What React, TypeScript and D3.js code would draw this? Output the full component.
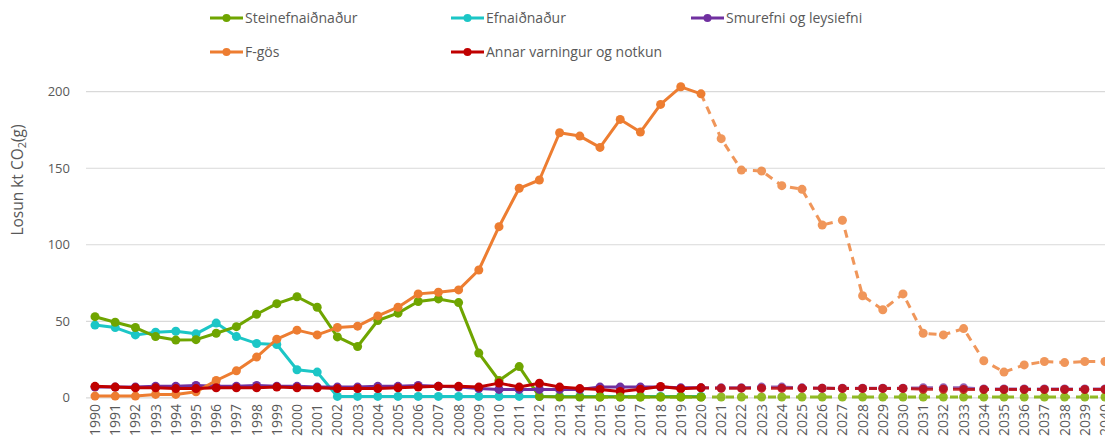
import React from "react";
import * as d3 from "d3";

const years = d3.range(1990, 2041);
const yTicks = [0, 50, 100, 150, 200];

// Historical series 1990-2020
const steinefni = [53, 49.4, 45.9, 40, 37.7, 38, 42.2, 46.5, 54.6, 61.5, 66, 59.2, 39.8, 33.5, 50.5, 55.3, 62.9, 64.6, 62.2, 29.2, 11.3, 20.4, 0.8, 0.5, 0.5, 0.5, 0.5, 0.5, 0.5, 0.5, 0.5];
const efni = [47.5, 45.9, 41.1, 42.9, 43.5, 41.8, 48.8, 40, 35.5, 34.8, 18.3, 16.8, 0.9, 0.9, 0.9, 0.9, 0.9, 0.9, 0.9, 0.9, 0.9, 0.9, 0.9, 0.9, 0.9, 0.9, 0.9, 0.9, 0.9, 0.9, 0.9];
const smurefni = [7, 7, 7, 7.5, 7.5, 8, 7.5, 7.5, 8, 7.5, 7.5, 7, 7, 7, 7.5, 7.5, 8, 7.5, 7, 6, 5.5, 5.5, 5.5, 5.5, 5.5, 7, 7, 7, 7, 6.5, 6.5];
const fgos = [1.1, 1.1, 1.1, 2.2, 2.2, 3.9, 11.3, 17.6, 26.6, 38.3, 44.2, 41.1, 45.9, 46.8, 53.5, 59.2, 67.9, 69, 70.5, 83.5, 111.8, 136.9, 142.3, 173.2, 171, 163.6, 181.9, 173.6, 191.7, 203.2, 198.6];
const annar = [7.5, 7, 6.5, 6.5, 6, 6, 6.5, 6.5, 6.5, 7, 6.5, 6.5, 6, 6, 6, 6.5, 7, 7.5, 7.5, 7, 9.6, 7, 9.5, 7, 6, 5.4, 4.1, 5.6, 7.4, 5.9, 6.5];

// Projections
const steinefniProjYears = d3.range(2015, 2041);
const steinefniProj = [0.5, 0.5, 0.5, 0.5, 0.5, 0.5, 0.5, 0.5, 0.5, 0.5, 0.5, 0.5, 0.5, 0.5, 0.5, 0.5, 0.5, 0.5, 0.5, 0.5, 0.5, 0.5, 0.5, 0.5, 0.5, 0.5];
const projYears = d3.range(2020, 2041);
const fgosProj = [198.6, 169.3, 148.8, 148.2, 138.6, 136.2, 112.9, 116, 66.7, 57.5, 67.9, 42.2, 41.1, 45.2, 24.2, 16.8, 21.5, 23.7, 23, 23.7, 23.7];
const smurefniProj = [6.5, 6.5, 6.5, 7, 7, 6.5, 6.3, 6.3, 6.3, 6.3, 6.3, 6.5, 6.5, 6.5, 5.8, 5.8, 5.8, 5.8, 5.8, 5.8, 5.8];
const annarProj = [6.5, 6.2, 6.3, 6.3, 6.2, 6.2, 6.2, 6.1, 6.1, 6.1, 6.1, 5.6, 5.6, 5.5, 5.4, 5.4, 5.4, 5.4, 5.4, 5.4, 5.4];

const COLORS = {
  green: "#6FA500",
  cyan: "#1CC6C6",
  purple: "#7030A0",
  orange: "#ED7D31",
  red: "#C00000",
};

const legendItems = [
  { label: "Steinefnaiðnaður", color: COLORS.green, x: 210, y: 18 },
  { label: "Efnaiðnaður", color: COLORS.cyan, x: 451, y: 18 },
  { label: "Smurefni og leysiefni", color: COLORS.purple, x: 691, y: 18 },
  { label: "F-gös", color: COLORS.orange, x: 210, y: 52 },
  { label: "Annar varningur og notkun", color: COLORS.red, x: 451, y: 52 },
];

export default function App() {
  const W = 1105, H = 442;
  const x = d3.scaleLinear().domain([1990, 2040]).range([95, 1105]);
  const y = d3.scaleLinear().domain([0, 200]).range([397.8, 91.7]);
  const line = d3.line<[number, number]>().x((d) => x(d[0])).y((d) => y(d[1]));
  const font = "'Open Sans', 'Liberation Sans', sans-serif";
  const textColor = "#595959";

  const hist = (vals: number[]) => vals.map((v, i) => [years[i], v] as [number, number]);
  const proj = (yrs: number[], vals: number[]) => vals.map((v, i) => [yrs[i], v] as [number, number]);

  const Series = ({ data, color, dashed, drawFirstMarker = true, opacity = 1 }: any) => (
    <g opacity={opacity}>
      <path d={line(data) || ""} fill="none" stroke={color} strokeWidth={3}
        strokeDasharray={dashed ? "8,6" : undefined} strokeLinejoin="round" />
      {data.map((d: [number, number], i: number) =>
        (!drawFirstMarker && i === 0) ? null : (
          <circle key={i} cx={x(d[0])} cy={y(d[1])} r={4.5} fill={color} />
        )
      )}
    </g>
  );

  return (
    <svg width={W} height={H} style={{ position: "absolute", left: 0, top: 0, background: "#fff" }}>
      {/* grid */}
      {yTicks.map((t) => (
        <g key={t}>
          <line x1={86} x2={W} y1={y(t)} y2={y(t)} stroke="#D9D9D9" strokeWidth={1.2} />
          <text x={70} y={y(t)} dy="0.35em" textAnchor="end" fontSize={13} fontFamily={font} fill={textColor}>{t}</text>
        </g>
      ))}
      {/* y title */}
      <text transform={`translate(23,180) rotate(-90)`} textAnchor="middle" fontSize={15.5} fontFamily={font} fill={textColor}>
        Losun kt CO<tspan fontSize={11} dy="3">2</tspan><tspan dy="-3">(g)</tspan>
      </text>
      {/* x labels */}
      {years.map((yr) => (
        <text key={yr} transform={`translate(${x(yr)},404) rotate(-90)`} textAnchor="end" dy="0.35em" fontSize={14} fontFamily={font} fill={textColor}>{yr}</text>
      ))}

      {/* series */}
      <Series data={hist(efni)} color={COLORS.cyan} />
      <Series data={hist(steinefni)} color={COLORS.green} />
      <Series data={hist(smurefni)} color={COLORS.purple} />
      <Series data={hist(fgos)} color={COLORS.orange} />
      <Series data={hist(annar)} color={COLORS.red} />

      <Series data={proj(steinefniProjYears, steinefniProj)} color="#7FB000" dashed opacity={0.85} />
      <Series data={proj(projYears, smurefniProj)} color={COLORS.purple} dashed drawFirstMarker={false} opacity={0.75} />
      <Series data={proj(projYears, annarProj)} color={COLORS.red} dashed drawFirstMarker={false} opacity={0.8} />
      <Series data={proj(projYears, fgosProj)} color={COLORS.orange} dashed drawFirstMarker={false} opacity={0.8} />

      {/* legend */}
      {legendItems.map((it) => (
        <g key={it.label}>
          <line x1={it.x} x2={it.x + 33} y1={it.y} y2={it.y} stroke={it.color} strokeWidth={3} />
          <circle cx={it.x + 16.5} cy={it.y} r={4} fill={it.color} />
          <text x={it.x + 35} y={it.y} dy="0.35em" fontSize={14} fontFamily={font} fill={textColor}>{it.label}</text>
        </g>
      ))}
    </svg>
  );
}
